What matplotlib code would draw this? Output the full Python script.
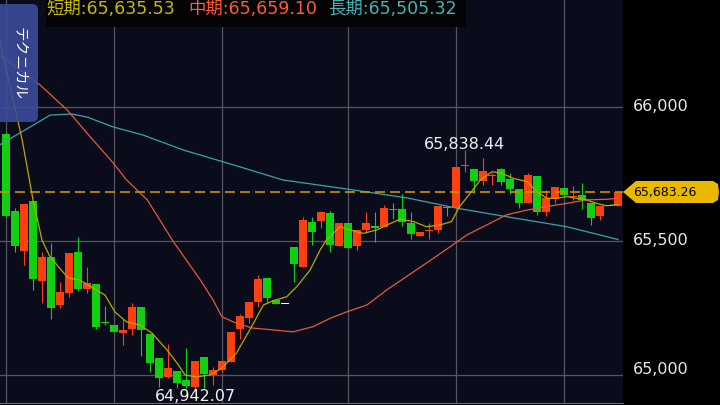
import matplotlib
matplotlib.use('agg')
import matplotlib.pyplot as plt
from matplotlib.patches import FancyBboxPatch, Polygon
import numpy as np

plt.rcParams['font.family'] = ['DejaVu Sans', 'Noto Sans CJK JP']

# candles, red = up, green = down
opens = [65899, 65613, 65464, 65649, 65352, 65439, 65262, 65305, 65459, 65322,
         65339, 65198, 65188, 65158, 65172, 65253, 65153, 65064, 64994, 65014,
         64982, 64955, 65066, 65000, 65019, 65050, 65171, 65214, 65272, 65363,
         65278, 65264, 65478, 65404, 65571, 65576, 65605, 65480, 65565, 65482,
         65539, 65555, 65552, 65620, 65618, 65566, 65520, 65536, 65541, 65626,
         65623, 65778, 65767, 65723, 65743, 65768, 65730, 65693, 65641, 65743,
         65607, 65658, 65698, 65665, 65671, 65642, 65591, 65630, 65631]
highs = [65905, 65624, 65638, 65650, 65457, 65494, 65345, 65455, 65516, 65402,
         65339, 65258, 65188, 65208, 65270, 65253, 65153, 65064, 65116, 65014,
         65100, 65052, 65066, 65028, 65052, 65160, 65227, 65272, 65373, 65363,
         65278, 65264, 65478, 65589, 65589, 65610, 65613, 65565, 65565, 65541,
         65607, 65607, 65632, 65643, 65674, 65606, 65534, 65568, 65629, 65626,
         65777, 65838.44, 65767, 65809, 65754, 65773, 65755, 65693, 65753, 65743,
         65690, 65702, 65698, 65706, 65715, 65642, 65631, 65630, 65683.26]
lows = [65588, 65460, 65411, 65317, 65270, 65208, 65248, 65292, 65315, 65307,
        65172, 65187, 65162, 65112, 65148, 65071, 65012, 64955, 64989, 64952,
        64951, 64942.07, 64953, 64963, 65012, 65049, 65134, 65195, 65255, 65268,
        65266, 65264, 65348, 65404, 65485, 65548, 65457, 65480, 65473, 65467,
        65529, 65496, 65552, 65581, 65554, 65507, 65520, 65507, 65531, 65593,
        65623, 65758, 65679, 65709, 65709, 65709, 65676, 65622, 65641, 65597,
        65593, 65643, 65672, 65653, 65620, 65560, 65579, 65630, 65631]
closes = [65591, 65482, 65638, 65357, 65439, 65251, 65310, 65455, 65320, 65344,
          65179, 65194, 65162, 65169, 65253, 65166, 65046, 64990, 65025, 64969,
          64960, 65052, 65003, 65018, 65052, 65160, 65220, 65272, 65358, 65286,
          65266, 65264, 65414, 65579, 65535, 65607, 65485, 65565, 65473, 65541,
          65565, 65548, 65622, 65615, 65570, 65525, 65534, 65539, 65629, 65621,
          65777, 65780, 65725, 65761, 65745, 65721, 65693, 65641, 65746, 65607,
          65660, 65702, 65672, 65667, 65653, 65587, 65631, 65630, 65683.26]

# moving averages, sampled along the curves (x in candle index)
short_x = [-0.7, 1.8, 3.0, 4.0, 4.9, 6.9, 8.2, 9.3, 11.0, 12.1, 13.4, 14.9, 16.2,
           17.9, 19.0, 19.9, 21.2, 22.7, 24.0, 25.6, 27.5, 28.6, 29.7, 31.2, 32.3,
           33.8, 34.9, 35.6, 37.1, 38.2, 39.7, 41.2, 42.3, 43.8, 45.3, 46.7, 48.2,
           49.5, 50.4, 51.6, 52.7, 54.0, 55.1, 56.4, 57.9, 59.0, 60.1, 61.2, 62.3,
           63.4, 64.5, 65.6, 66.7, 68.0]
short_y = [66249, 65876, 65653, 65503, 65440, 65362, 65354, 65332, 65298, 65235,
           65198, 65186, 65157, 65093, 65045, 65000, 64993, 65000, 65026, 65081,
           65193, 65261, 65277, 65292, 65329, 65392, 65466, 65503, 65553, 65541,
           65528, 65541, 65559, 65581, 65572, 65553, 65559, 65572, 65628, 65678,
           65727, 65758, 65752, 65733, 65721, 65683, 65659, 65659, 65665, 65659,
           65653, 65640, 65631, 65635.53]
mid_x = [-0.7, 3.8, 6.8, 9.0, 11.9, 13.4, 15.7, 18.6, 21.6, 23.0, 24.0, 25.6,
         27.4, 29.7, 31.9, 34.1, 36.0, 37.9, 40.1, 42.3, 44.5, 46.7, 49.0, 51.2,
         53.8, 55.6, 57.9, 60.1, 62.3, 64.5, 66.7, 68.0]
mid_y = [66193, 66081, 65988, 65902, 65791, 65727, 65653, 65497, 65354, 65280,
         65217, 65193, 65175, 65168, 65161, 65180, 65211, 65236, 65261, 65317,
         65367, 65417, 65470, 65522, 65566, 65597, 65615, 65628, 65640, 65653,
         65655, 65659.10]
long_x = [-0.7, 4.9, 7.3, 9.0, 11.9, 15.2, 19.7, 26.0, 30.8, 38.6, 44.6, 50.1,
          56.0, 62.3, 68.0]
long_y = [65858, 65969, 65973, 65962, 65925, 65895, 65839, 65776, 65727, 65690,
          65660, 65622, 65588, 65553, 65505.32]

price_ticks = [66000, 65500, 65000]
vgrid_idx = [0, 12, 24, 38, 50, 62]
last_price = 65683.26
hi_idx, lo_idx = 51, 21

RED = '#ff3f10'
GREEN = '#10d010'
BG = '#0a0c1c'
GRID = '#55555e'
C_SHORT = '#b8a800'
C_MID = '#e8583a'
C_LONG = '#3aa4a6'

fig = plt.figure(figsize=(7.2, 4.05), dpi=100)
fig.patch.set_facecolor('black')
ax = fig.add_axes([0, 2 / 405, 623 / 720, 403 / 405])
ax.set_facecolor(BG)
ax.set_xlim(-0.667, 68.56)
ax.set_ylim(64895.6, 66398.2)
for s in ['top', 'left', 'right']:
    ax.spines[s].set_visible(False)
ax.spines['bottom'].set_color('#6a6a70')
ax.set_xticks([])
ax.set_yticks([])

for p in price_ticks:
    ax.axhline(p, color=GRID, lw=0.9, zorder=0)
for v in vgrid_idx:
    ax.axvline(v, color=GRID, lw=0.9, zorder=0)

xs = np.arange(len(opens))
o = np.array(opens, float)
c = np.array(closes, float)
cols = [RED if cc > oo else (GREEN if cc < oo else 'white') for oo, cc in zip(o, c)]
ax.vlines(xs, lows, highs, colors=cols, lw=0.8, zorder=2)
ax.bar(xs, np.maximum(np.abs(c - o), 3.7), bottom=np.minimum(o, c), width=0.86,
       color=cols, linewidth=0, zorder=3)

ax.plot(long_x, long_y, color=C_LONG, lw=0.9, zorder=4)
ax.plot(mid_x, mid_y, color=C_MID, lw=0.9, zorder=4)
ax.plot(short_x, short_y, color=C_SHORT, lw=0.9, zorder=4)

ax.axhline(last_price, color='#c89600', lw=1.2, dashes=(6, 3), zorder=5)

ax.annotate(f'{highs[hi_idx]:,.2f}', xy=(hi_idx, highs[hi_idx]), xytext=(0, 0.5),
            textcoords='offset points', ha='center', va='baseline',
            color='#f0f0f0', fontsize=11.5, zorder=6)
ax.annotate(f'{lows[lo_idx]:,.2f}', xy=(lo_idx, lows[lo_idx]), xytext=(0, -7.8),
            textcoords='offset points', ha='center', va='baseline',
            color='#f0f0f0', fontsize=11.5, zorder=6)

# overlay in pixel coordinates for the chrome
ov = fig.add_axes([0, 0, 1, 1])
ov.set_xlim(0, 720)
ov.set_ylim(405, 0)
ov.axis('off')
ov.patch.set_alpha(0)

# price scale labels
for p in price_ticks:
    yp = 106.8 + (66000 - p) / 3.7286
    if yp > 360:
        yp = 369
    ov.text(633, yp, f'{p:,}', color='#e8e8e8', fontsize=11.5, va='center', ha='left')

# last price tag
ov.add_patch(Polygon([(623, 192), (636, 181), (713, 181), (718, 184), (719, 192),
                      (718, 200), (713, 203), (636, 203)], closed=True,
                     facecolor='#ebb800', edgecolor='none'))
ov.text(633, 192.5, f'{last_price:,.2f}', color='black', fontsize=9, va='center', ha='left')

# legend strip
ov.add_patch(plt.Rectangle((46, 0), 420, 27, facecolor='#040406', edgecolor='none'))
ov.text(46, 8.5, '短期:65,635.53', color='#c8b80a', fontsize=12.5, va='center', ha='left')
ov.text(188, 8.5, '中期:65,659.10', color='#ff5a36', fontsize=12.5, va='center', ha='left')
ov.text(328, 8.5, '長期:65,505.32', color='#44b2b6', fontsize=12.5, va='center', ha='left')

# side tab
ov.add_patch(FancyBboxPatch((-12, 4), 50, 118, boxstyle='round,pad=0,rounding_size=6',
                            facecolor='#3c4c9e', edgecolor='none', alpha=0.88))
ov.text(19, 64, 'テクニカル', color='white', fontsize=10.5, rotation=-90,
        va='center', ha='center', family=['Noto Sans CJK JP', 'DejaVu Sans'])

fig.savefig('out.png', dpi=100, facecolor=fig.get_facecolor())
